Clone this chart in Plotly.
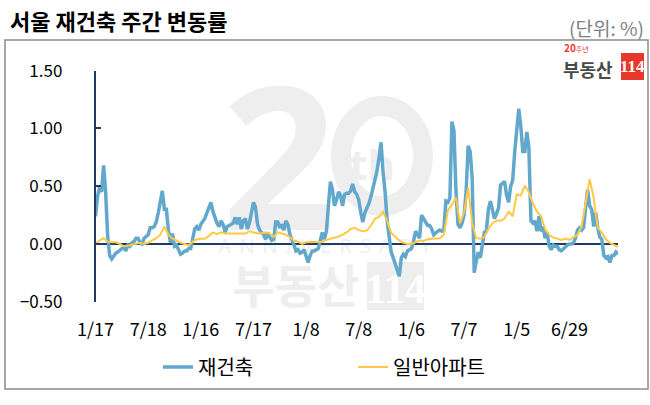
import base64
import plotly.graph_objects as go

# ---- data ----
# 재건축: weekly values (week index 0 = 1/17)
rebuild = [
    0.24, 0.41, 0.49, 0.45, 0.68, 0.45, 0.07, -0.10, -0.13, -0.10,
    -0.08, -0.07, -0.05, -0.04, -0.03, -0.06, -0.01, -0.02, 0.01, 0.02,
    0.05, 0.05, 0.01, 0.00, 0.05, 0.07, 0.08, 0.14, 0.14, 0.15,
    0.19, 0.27, 0.38, 0.46, 0.30, 0.30, 0.12, 0.01, 0.09, -0.02,
    -0.01, -0.06, -0.09, -0.08, -0.06, -0.06, -0.04, -0.04, 0.04, 0.13,
    0.15, 0.12, 0.17, 0.19, 0.22, 0.27, 0.32, 0.36, 0.28, 0.22,
    0.18, 0.15, 0.20, 0.17, 0.10, 0.15, 0.16, 0.17, 0.18, 0.23,
    0.17, 0.23, 0.13, 0.20, 0.22, 0.13, 0.18, 0.27, 0.36, 0.32,
    0.17, 0.12, 0.10, 0.08, 0.04, 0.10, 0.06, 0.03, 0.04, 0.19,
    0.19, 0.14, 0.17, 0.12, 0.20, 0.17, 0.08, 0.04, -0.01, -0.06,
    -0.05, -0.08, -0.07, -0.05, -0.12, -0.16, -0.10, -0.06, -0.06, -0.05,
    -0.04, 0.03, 0.10, 0.04, 0.11, 0.33, 0.54, 0.47, 0.33, 0.38,
    0.45, 0.42, 0.33, 0.43, 0.44, 0.44, 0.46, 0.52, 0.45, 0.43,
    0.38, 0.27, 0.19, 0.27, 0.31, 0.35, 0.41, 0.48, 0.55, 0.63,
    0.75, 0.88, 0.62, 0.45, 0.20, 0.05, -0.07, -0.12, -0.18, -0.24,
    -0.28, -0.12, -0.09, -0.11, -0.06, -0.05, -0.04, 0.02, 0.11, 0.08,
    0.05, 0.25, 0.22, 0.18, 0.16, 0.16, 0.13, 0.08, 0.10, 0.11,
    0.12, 0.11, 0.12, 0.37, 0.36, 0.40, 1.06, 0.98, 0.45, 0.17,
    0.14, 0.18, 0.25, 0.45, 0.85, 0.80, 0.57, -0.25, -0.15, -0.07,
    -0.12, -0.02, 0.10, 0.11, 0.30, 0.37, 0.28, 0.22, 0.26, 0.31,
    0.51, 0.53, 0.54, 0.42, 0.36, 0.50, 0.55, 0.80, 0.99, 1.17,
    1.02, 0.80, 0.80, 0.97, 0.83, 0.20, 0.18, 0.20, 0.11, 0.24,
    0.11, 0.15, 0.05, 0.10, -0.02, -0.05, -0.01, -0.02, -0.02, -0.05,
    -0.06, -0.04, -0.02, -0.01, 0.00, 0.00, 0.01, 0.05, 0.12, 0.14,
    0.12, 0.14, 0.31, 0.47, 0.33, 0.30, 0.15, 0.27, 0.14, 0.06,
    0.04, -0.10, -0.12, -0.11, -0.16, -0.10, -0.10, -0.07, -0.09,
]
rebuild_weeks = list(range(len(rebuild)))

# 일반아파트: every second week
general = [
    0.00, 0.03, 0.05, 0.02, 0.015, 0.015, 0.00, -0.02, -0.015, -0.005,
    0.00, 0.01, 0.00, 0.01, 0.03, 0.05, 0.08, 0.15, 0.08, 0.045,
    0.03, 0.01, 0.00, -0.01, 0.02, 0.04, 0.045, 0.045, 0.07, 0.10,
    0.085, 0.10, 0.09, 0.09, 0.09, 0.09, 0.095, 0.09, 0.11, 0.10,
    0.09, 0.09, 0.10, 0.09, 0.06, 0.10, 0.09, 0.08, 0.06, 0.03,
    0.02, 0.00, 0.015, 0.015, 0.015, 0.015, 0.02, 0.035, 0.045, 0.05,
    0.065, 0.08, 0.10, 0.13, 0.14,
    0.12, 0.11, 0.115, 0.16, 0.22, 0.235, 0.28, 0.20, 0.095, 0.06,
    0.03, 0.01, 0.00, 0.00, 0.015, 0.03, 0.025, 0.04, 0.045, 0.05,
    0.05, 0.08, 0.29, 0.34, 0.40, 0.18, 0.27, 0.49, 0.18, 0.05,
    0.045, 0.06, 0.13, 0.18, 0.20, 0.20, 0.22, 0.28, 0.24, 0.43,
    0.42, 0.505, 0.45, 0.35, 0.28, 0.24, 0.13, 0.08, 0.055, 0.046,
    0.035, 0.046, 0.035, 0.057, 0.08, 0.15, 0.34, 0.56, 0.40, 0.14,
    0.10, 0.04, 0.01, -0.01, -0.025,
]
general_weeks = list(range(0, 2 * len(general), 2))

tick_pos = [0, 26, 52, 78, 104, 130, 156, 182, 208, 234]
tick_labels = ["1/17", "7/18", "1/16", "7/17", "1/8", "7/8", "1/6", "7/7", "1/5", "6/29"]
y_ticks = [-0.5, 0.0, 0.5, 1.0, 1.5]
series_names = ["재건축", "일반아파트"]

# ---- layout helpers (pixel -> paper) ----
W, H = 650, 405
def px(x):
    return x / W
def py(y):
    return 1 - y / H

FONT = "Noto Sans CJK KR"
NAVY = "#1f3864"
BLUE = "#62a7cc"
YELLOW = "#ffc845"

fig = go.Figure()
fig.add_trace(go.Scatter(x=rebuild_weeks, y=rebuild, mode="lines", name=series_names[0],
                         line=dict(color=BLUE, width=3.5)))
fig.add_trace(go.Scatter(x=general_weeks, y=general, mode="lines", name=series_names[1],
                         line=dict(color=YELLOW, width=2)))

# background watermark (anniversary logo), drawn beneath the plot
WMC = "#eeeeee"
svg = f"""<svg xmlns="http://www.w3.org/2000/svg" width="650" height="405" viewBox="0 0 650 405">
<text x="222" y="230" font-family="Noto Sans" font-weight="bold" font-size="200" fill="{WMC}">2</text>
<ellipse cx="382" cy="156" rx="41" ry="50" fill="none" stroke="{WMC}" stroke-width="20"/>
<text x="372" y="180" text-anchor="middle" font-family="Noto Sans" font-weight="bold" font-size="42" fill="{WMC}">th</text>
<text x="329" y="253" text-anchor="middle" font-family="Noto Sans" font-size="20" letter-spacing="8" fill="{WMC}">ANNIVERSARY</text>
<text x="296" y="303" text-anchor="middle" font-family="Noto Sans CJK KR" font-weight="bold" font-size="46" fill="{WMC}">부동산</text>
<rect x="367" y="262" width="57" height="48" fill="{WMC}"/>
<text x="395.5" y="303" text-anchor="middle" font-family="Liberation Sans Narrow" font-weight="bold" font-size="42" fill="#ffffff">114</text>
</svg>"""
wm_src = "data:image/svg+xml;base64," + base64.b64encode(svg.encode("utf-8")).decode("ascii")

annotations = [
    dict(text="<b>서울 재건축 주간 변동률</b>", x=px(8), y=py(20), xanchor="left",
         font=dict(size=22, color="#000000", family=FONT)),
    dict(text="(단위: %)", x=px(646), y=py(28), xanchor="right",
         font=dict(size=19, color="#7f7f7f", family=FONT)),
    dict(text="<b>20</b><span style='font-size:7px'>주년</span>", x=px(562), y=py(48), xanchor="left",
         font=dict(size=10, color="#e8372c", family=FONT)),
    dict(text="<b>부동산</b>", x=px(588), y=py(69), font=dict(size=18, color="#4a4a4a", family=FONT)),
    dict(text="<b>114</b>", x=px(632.5), y=py(67), font=dict(size=17, color="#ffffff",
                                                            family="Liberation Sans Narrow")),
]
for a in annotations:
    a.setdefault("xanchor", "center")
    a["xref"] = "paper"
    a["yref"] = "paper"
    a["yanchor"] = "middle"
    a["showarrow"] = False

shapes = [
    dict(type="rect", xref="paper", yref="paper", x0=px(5), x1=px(648), y0=py(389), y1=py(40),
         line=dict(color="#8c8c8c", width=1.5), layer="below"),
    dict(type="rect", xref="paper", yref="paper", x0=px(621), x1=px(644), y0=py(80), y1=py(53),
         fillcolor="#e8372c", line=dict(width=0)),
]

fig.update_layout(
    width=W, height=H,
    margin=dict(l=0, r=0, t=0, b=0, autoexpand=False),
    paper_bgcolor="white",
    plot_bgcolor="rgba(0,0,0,0)",
    font=dict(family=FONT, color="#000000", size=17),
    annotations=annotations,
    shapes=shapes,
    images=[dict(source=wm_src, xref="paper", yref="paper", x=0, y=1, sizex=1, sizey=1,
                 xanchor="left", yanchor="top", sizing="stretch", layer="below")],
    showlegend=True,
    legend=dict(orientation="h", x=px(158), xanchor="left", y=py(367), yanchor="middle",
                font=dict(size=20, family=FONT), entrywidth=150, bgcolor="rgba(0,0,0,0)"),
    xaxis=dict(domain=[px(95.5), px(618)], range=[0, 258], tickmode="array",
               tickvals=tick_pos, ticktext=tick_labels, showgrid=False, zeroline=False,
               showline=False, ticks="", ticklabelstandoff=15, automargin=False,
               tickfont=dict(size=18, family=FONT, color="#000000")),
    yaxis=dict(domain=[py(301.7), py(70.7)], range=[-0.5, 1.5], tickmode="array",
               tickvals=y_ticks, tickformat=".2f", showgrid=False, automargin=False,
               zeroline=True, zerolinecolor=NAVY, zerolinewidth=1.5,
               showline=True, linecolor=NAVY, linewidth=1.5,
               ticks="inside", ticklen=6, tickcolor=NAVY, tickwidth=1.5,
               ticklabelstandoff=28,
               tickfont=dict(size=17, family=FONT, color="#000000")),
)

fig.write_html("out.html")
